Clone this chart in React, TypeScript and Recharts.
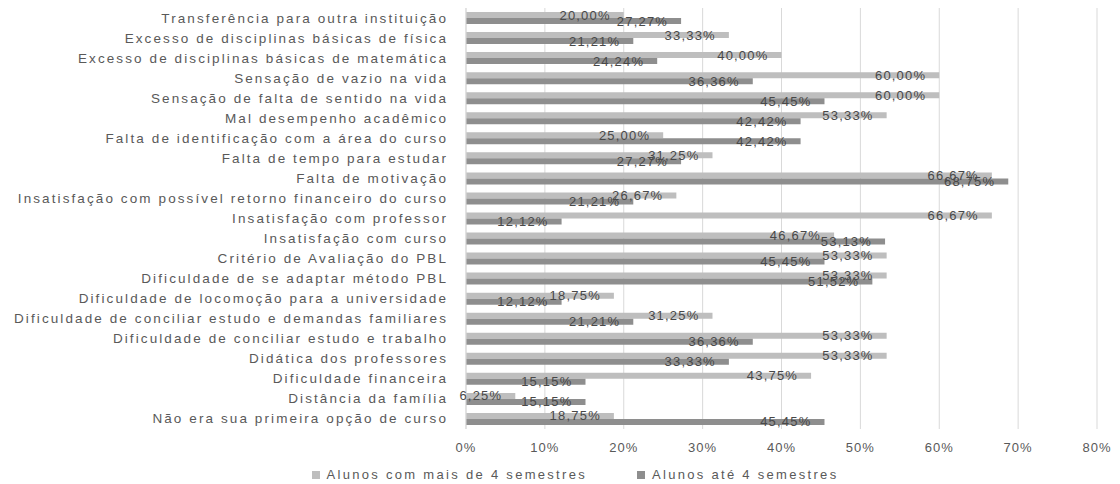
import React from "react";
import { BarChart, Bar, XAxis, YAxis, CartesianGrid, Legend, LabelList } from "recharts";

const categories = [
  "Transferência para outra instituição",
  "Excesso de disciplinas básicas de física",
  "Excesso de disciplinas básicas de matemática",
  "Sensação de vazio na vida",
  "Sensação de falta de sentido na vida",
  "Mal desempenho acadêmico",
  "Falta de identificação com a área do curso",
  "Falta de tempo para estudar",
  "Falta de motivação",
  "Insatisfação com possível retorno financeiro do curso",
  "Insatisfação com professor",
  "Insatisfação com curso",
  "Critério de Avaliação do PBL",
  "Dificuldade de se adaptar método PBL",
  "Dificuldade de locomoção para a universidade",
  "Dificuldade de conciliar estudo e demandas familiares",
  "Dificuldade de conciliar estudo e trabalho",
  "Didática dos professores",
  "Dificuldade financeira",
  "Distância da família",
  "Não era sua primeira opção de curso",
];

const maisDe4 = [20.0, 33.33, 40.0, 60.0, 60.0, 53.33, 25.0, 31.25, 66.67, 26.67, 66.67, 46.67, 53.33, 53.33, 18.75, 31.25, 53.33, 53.33, 43.75, 6.25, 18.75];
const ate4 = [27.27, 21.21, 24.24, 36.36, 45.45, 42.42, 42.42, 27.27, 68.75, 21.21, 12.12, 53.13, 45.45, 51.52, 12.12, 21.21, 36.36, 33.33, 15.15, 15.15, 45.45];

const xTicks = [0, 10, 20, 30, 40, 50, 60, 70, 80];
const seriesNames = ["Alunos com mais de 4 semestres", "Alunos até 4 semestres"];
const LIGHT = "#bebebe";
const DARK = "#8e8e8e";
const FONT = "'Liberation Sans', Arial, sans-serif";

const data = categories.map((c, i) => ({ name: c, mais: maisDe4[i], ate: ate4[i] }));

const fmt = (v: number) => v.toFixed(2).replace(".", ",") + "%";

const ValueLabel = (props: any) => {
  const { x, y, width, height, value } = props;
  return (
    <text
      x={Number(x) + Number(width) - 13}
      y={Number(y) + Number(height) / 2}
      textAnchor="end"
      dominantBaseline="central"
      style={{ fill: "#484848", fontSize: 13, fontFamily: FONT, letterSpacing: 1.2 }}
    >
      {fmt(value)}
    </text>
  );
};

const CatTick = (props: any) => {
  const { x, y, payload } = props;
  return (
    <text
      x={Number(x) - 10}
      y={y}
      textAnchor="end"
      dominantBaseline="central"
      style={{ fill: "#595959", fontSize: 13.5, fontFamily: FONT, letterSpacing: 2.1 }}
    >
      {payload.value}
    </text>
  );
};

const LegendContent = () => (
  <div style={{ display: "flex", justifyContent: "center", fontFamily: FONT, fontSize: 13, color: "#595959", letterSpacing: 2.3, paddingLeft: 30 }}>
    {seriesNames.map((n, i) => (
      <div key={n} style={{ display: "flex", alignItems: "center", marginRight: i === 0 ? 50 : 0 }}>
        <span style={{ width: 8, height: 8, background: i === 0 ? LIGHT : DARK, display: "inline-block", marginRight: 7 }} />
        <span>{n}</span>
      </div>
    ))}
  </div>
);

export default function App() {
  return (
    <div style={{ position: "absolute", left: 0, top: 0, background: "#fff" }}>
      <BarChart
        width={1120}
        height={484}
        data={data}
        layout="vertical"
        margin={{ top: 8, right: 23, left: 0, bottom: 0 }}
        barGap={0}
      >
        <CartesianGrid horizontal={false} stroke="#d9d9d9" />
        <XAxis
          type="number"
          domain={[0, 80]}
          ticks={xTicks}
          axisLine={false}
          tickLine={false}
          tickFormatter={(v: number) => v + "%"}
          tick={{ fill: "#595959", fontSize: 13, fontFamily: FONT, letterSpacing: 1 }}
          tickMargin={8}
          height={40}
        />
        <YAxis
          type="category"
          dataKey="name"
          width={466}
          axisLine={{ stroke: "#d9d9d9" }}
          tickLine={false}
          tick={<CatTick />}
          interval={0}
        />
        <Legend verticalAlign="bottom" content={<LegendContent />} wrapperStyle={{ left: 0, width: 1120, bottom: 2 }} />
        <Bar dataKey="mais" name={seriesNames[0]} fill={LIGHT} barSize={6} isAnimationActive={false}>
          <LabelList dataKey="mais" content={<ValueLabel />} />
        </Bar>
        <Bar dataKey="ate" name={seriesNames[1]} fill={DARK} barSize={6} isAnimationActive={false}>
          <LabelList dataKey="ate" content={<ValueLabel />} />
        </Bar>
      </BarChart>
    </div>
  );
}
